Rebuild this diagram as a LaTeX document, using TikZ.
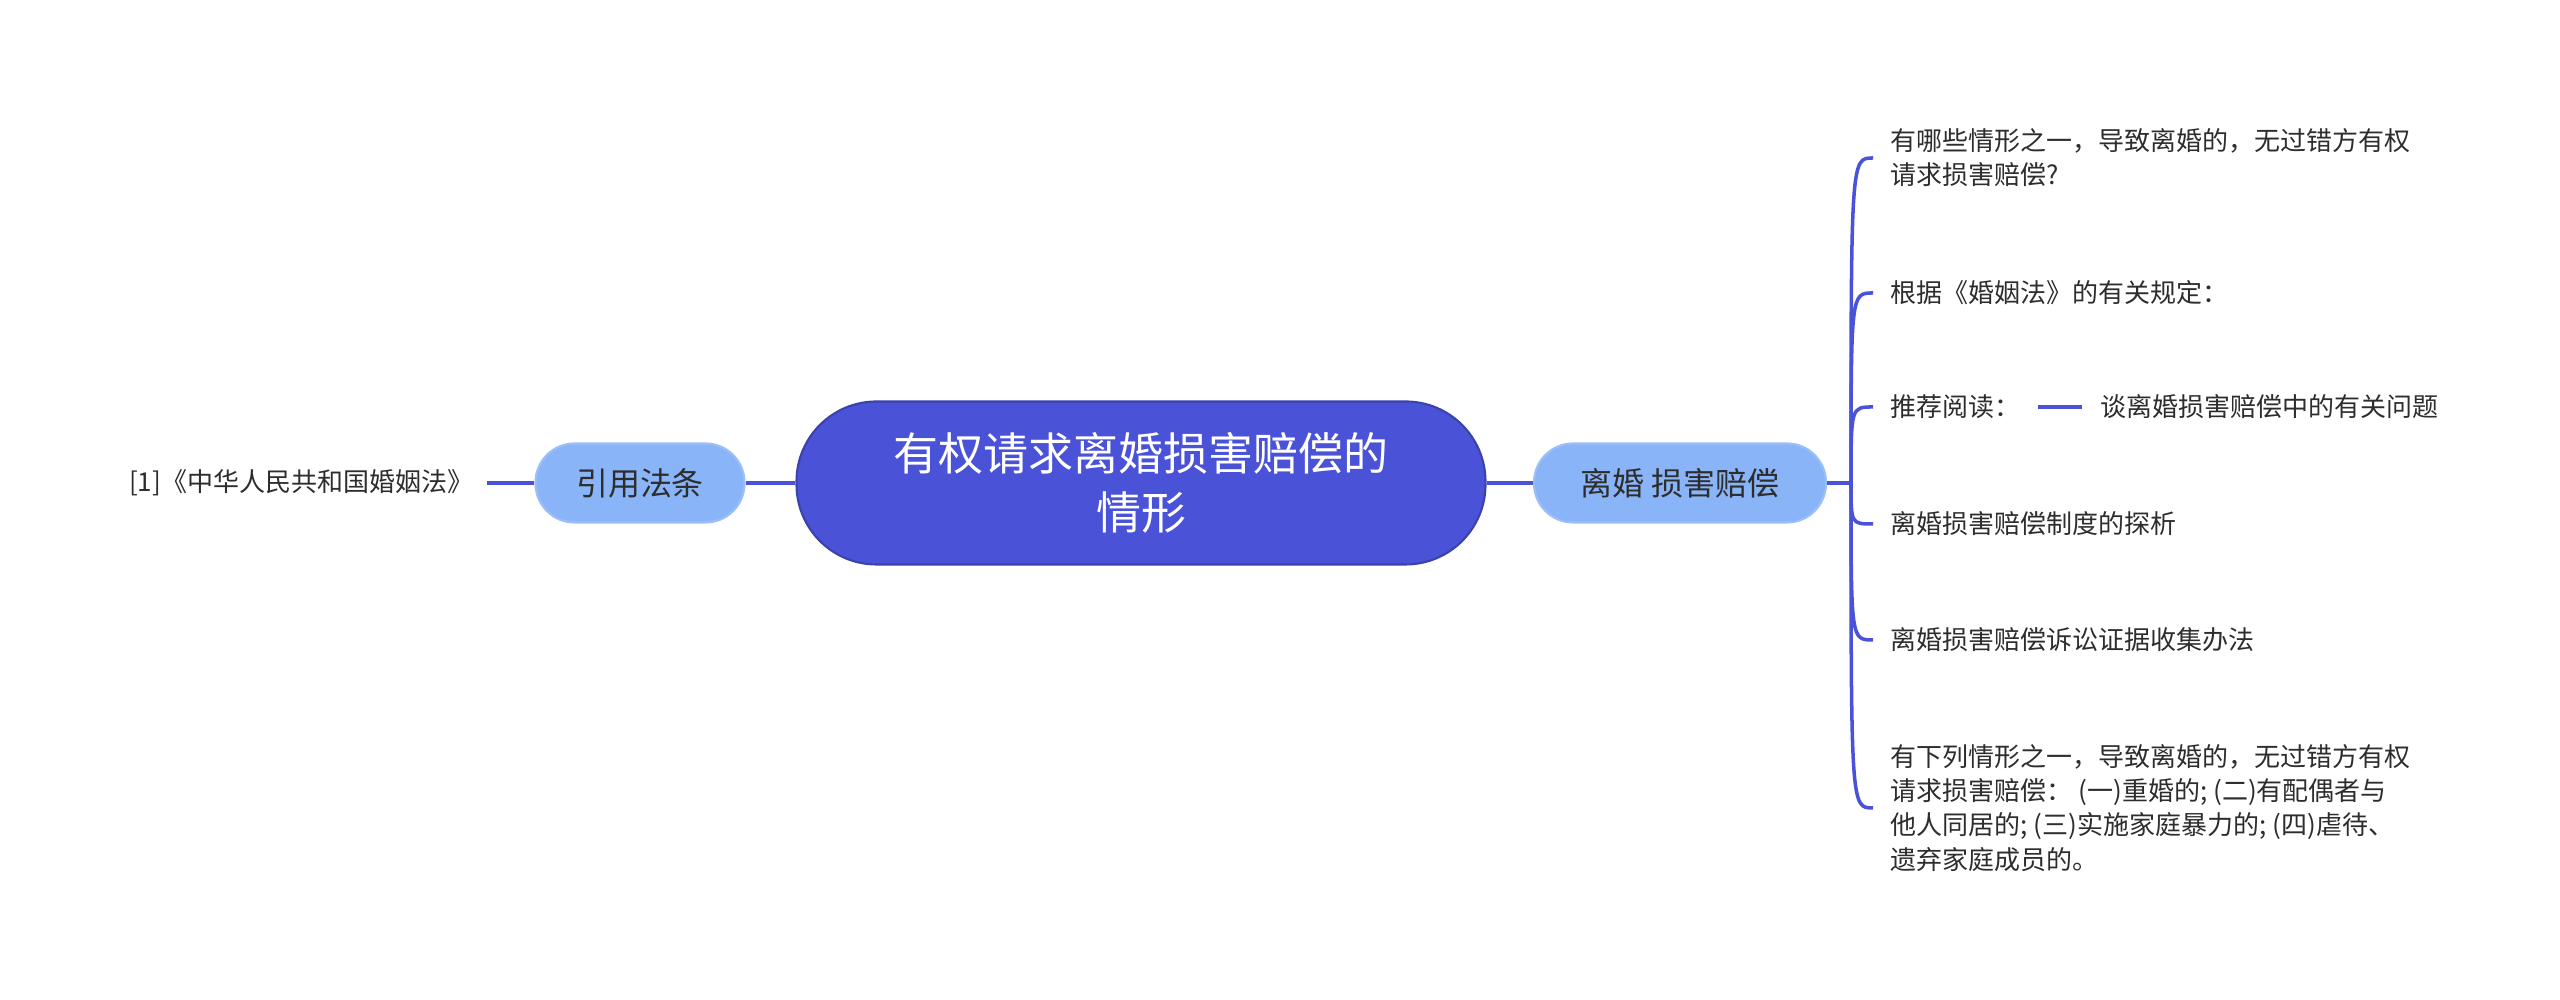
\documentclass[tikz,border=0pt]{standalone}
\usepackage{fontspec}
\setmainfont{Noto Sans CJK SC}
\usepackage{tikz}
\usetikzlibrary{positioning}
\definecolor{rootblue}{RGB}{74,82,216}
\definecolor{childblue}{RGB}{138,180,248}
\definecolor{textgray}{RGB}{45,45,45}

\begin{document}
\begin{tikzpicture}[every node/.style={inner sep=0pt, text=textgray},
  rootbox/.style={fill=rootblue, draw=rootblue!80!black, line width=0.6pt,
    rounded corners=0.8cm, minimum width=6.89cm, minimum height=1.63cm,
    text=white, align=center, font=\fontsize{12.8}{17}\selectfont},
  childbox/.style={fill=childblue, draw=childblue!85!white, line width=0.6pt,
    rounded corners=0.39cm, minimum height=0.79cm, font=\fontsize{9.1}{11}\selectfont},
  leaf/.style={anchor=west, inner xsep=0.17cm, align=left,
    font=\fontsize{7.4}{9.7}\selectfont},
  branch/.style={draw=rootblue, line width=1pt}]
  %% page size
  \useasboundingbox (0,0) rectangle (25.6,10);

  \def\hubx{18.51} % x of the right trunk
  \def\leafx{18.73}

  % main nodes
  \node[rootbox] (root) at (11.41,5.17) {有权请求离婚损害赔偿的\\情形};
  \node[childbox, minimum width=2.92cm] (divorce) at (16.80,5.17) {离婚 损害赔偿};
  \node[childbox, minimum width=2.09cm] (cite) at (6.40,5.17) {引用法条};

  \draw[branch] (root.east) -- (divorce.west);
  \draw[branch] (root.west) -- (cite.east);

  % left side
  \node[leaf, anchor=east, inner xsep=0.13cm] (law) at (4.87,5.17) {[1]《中华人民共和国婚姻法》};
  \draw[branch] (cite.west) -- (law.east);

  % right side
  \node[leaf] (q1) at (\leafx,8.42) {有哪些情形之一，导致离婚的，无过错方有权\\请求损害赔偿?};
  \node[leaf] (q2) at (\leafx,7.07) {根据《婚姻法》的有关规定：};
  \node[leaf] (q3) at (\leafx,5.93) {推荐阅读：};
  \node[leaf, right=0.44cm of q3] (q3b) {谈离婚损害赔偿中的有关问题};
  \node[leaf] (q4) at (\leafx,4.76) {离婚损害赔偿制度的探析};
  \node[leaf] (q5) at (\leafx,3.60) {离婚损害赔偿诉讼证据收集办法};
  \node[leaf] (q6) at (\leafx,1.92) {有下列情形之一，导致离婚的，无过错方有权\\请求损害赔偿： (一)重婚的; (二)有配偶者与\\他人同居的; (三)实施家庭暴力的; (四)虐待、\\遗弃家庭成员的。};

  \coordinate (hub) at (\hubx,5.17);
  \draw[branch] (divorce.east) -- (hub);
  \foreach \n in {q1,q2,q3,q4,q5,q6}
    \draw[branch] (hub) .. controls (hub |- \n.west) and (hub |- \n.west) .. (\n.west);
  \draw[branch] (q3.east) -- (q3b.west);
\end{tikzpicture}
\end{document}
